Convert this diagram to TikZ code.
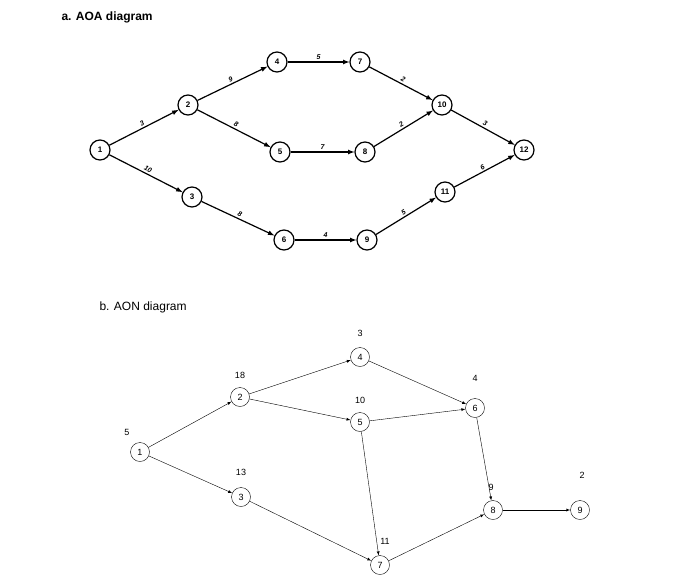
\documentclass[tikz,border=0pt]{standalone}
\usepackage{fontspec}
\setmainfont{Liberation Sans}
\usetikzlibrary{positioning}
\begin{document}
\begin{tikzpicture}[x=1pt,y=-1pt,
 ev/.style={circle,draw,very thick,minimum size=20pt,inner sep=0pt,font=\footnotesize\bfseries},
 an/.style={circle,draw,minimum size=19pt,inner sep=0pt,font=\small},
 ar/.style={draw,very thick,-latex},
 arn/.style={draw,-latex},
 lb/.style={font=\scriptsize\bfseries\itshape,above,sloped,inner sep=1.5pt},
 dur/.style={font=\small}]
\useasboundingbox[fill=white] (0,0) rectangle (700,586);
\node[font=\large\bfseries,anchor=west] (ta) at (58,17) {a. AOA diagram};
\node[font=\large,anchor=west] (tb) at (96,307) {b. AON diagram};
\node[ev] (a1) at (100,150) {1};
\node[ev] (a2) at (188,105) {2};
\node[ev] (a4) at (277,62) {4};
\node[ev] (a7) at (360,62) {7};
\node[ev] (a10) at (442,105) {10};
\node[ev] (a12) at (524,150) {12};
\node[ev] (a5) at (280,152) {5};
\node[ev] (a8) at (365,152) {8};
\node[ev] (a3) at (192,197) {3};
\node[ev] (a6) at (284,240) {6};
\node[ev] (a9) at (367,240) {9};
\node[ev] (a11) at (445,192) {11};
\path[ar] (a1)--node[lb]{3}(a2);
\path[ar] (a2)--node[lb]{9}(a4);
\path[ar] (a4)--node[lb]{5}(a7);
\path[ar] (a7)--node[lb]{2}(a10);
\path[ar] (a2)--node[lb]{8}(a5);
\path[ar] (a5)--node[lb]{7}(a8);
\path[ar] (a8)--node[lb]{2}(a10);
\path[ar] (a10)--node[lb]{3}(a12);
\path[ar] (a1)--node[lb]{10}(a3);
\path[ar] (a3)--node[lb]{8}(a6);
\path[ar] (a6)--node[lb]{4}(a9);
\path[ar] (a9)--node[lb]{5}(a11);
\path[ar] (a11)--node[lb]{6}(a12);
\node[an] (b1) at (140,452) {1};
\node[an] (b2) at (240,397) {2};
\node[an] (b4) at (360,357) {4};
\node[an] (b5) at (360,422) {5};
\node[an] (b6) at (475,408) {6};
\node[an] (b3) at (241,497) {3};
\node[an] (b7) at (380,565) {7};
\node[an] (b8) at (493,510) {8};
\node[an] (b9) at (580,510) {9};
\node[dur] (d1) at (127,432) {5};
\node[dur] (d2) at (240,375) {18};
\node[dur] (d4) at (360,333) {3};
\node[dur] (d5) at (360,400) {10};
\node[dur] (d6) at (475,378) {4};
\node[dur] (d3) at (241,472) {13};
\node[dur] (d7) at (385,541) {11};
\node[dur] (d8) at (491,487) {9};
\node[dur] (d9) at (582,475) {2};
\path[arn] (b1)--(b2);
\path[arn] (b1)--(b3);
\path[arn] (b2)--(b4);
\path[arn] (b2)--(b5);
\path[arn] (b4)--(b6);
\path[arn] (b5)--(b6);
\path[arn] (b5)--(b7);
\path[arn] (b3)--(b7);
\path[arn] (b6)--(b8);
\path[arn] (b7)--(b8);
\path[arn] (b8)--(b9);
\end{tikzpicture}
\end{document}
